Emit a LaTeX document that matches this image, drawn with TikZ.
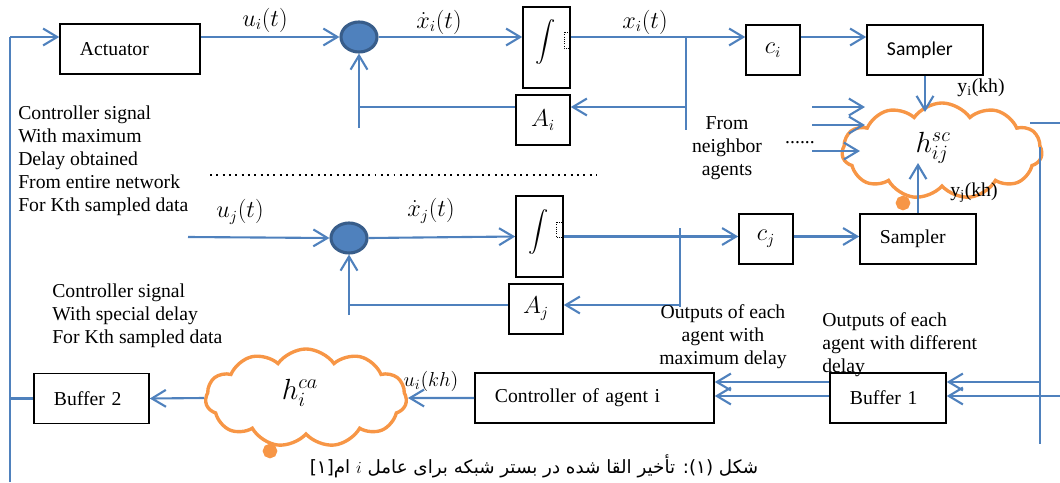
\documentclass[tikz,border=0pt]{standalone}
\usepackage{amsmath}
\usepackage{fontspec}
\setmainfont{Liberation Serif}
\newfontfamily\calibrifont{Carlito}
\newfontfamily\persianfont[Script=Arabic]{DejaVu Sans}
\TeXXeTstate=1
\usepackage{tikz}
\usetikzlibrary{arrows.meta,shapes.geometric,shapes.symbols}
\definecolor{lineblue}{HTML}{4F81BD}
\definecolor{sumblue}{HTML}{385D8A}
\definecolor{cloudorange}{HTML}{F79646}
\tikzset{
  blk/.style={draw=black, line width=1.1pt, minimum height=1.25cm, text width=#1, align=left, inner xsep=0.5cm},
  sq/.style={draw=black, line width=1.1pt, minimum width=1.35cm, minimum height=1.25cm, font=\fontsize{16pt}{18pt}\selectfont},
  intbox/.style={draw=black, line width=1.1pt, minimum width=1.175cm, minimum height=2.025cm},
  sig/.style={draw=lineblue, line width=1.5pt},
  arr/.style={sig, -{Straight Barb[length=10pt,width=12pt]}},
  mlbl/.style={font=\fontsize{16pt}{18pt}\selectfont},
  sum/.style={ellipse, draw=sumblue, fill=lineblue, line width=2.2pt, minimum width=0.9cm, minimum height=0.75cm},
  netcloud/.style={cloud, draw=cloudorange, line width=2.4pt, cloud puffs=11, cloud puff arc=110, cloud ignores aspect},
  bubble/.style={circle, draw=cloudorange, fill=cloudorange, line width=2.4pt, minimum size=0.28cm}
}
\begin{document}
\fontsize{14pt}{16.3pt}\selectfont
\begin{tikzpicture}[x=0.025cm, y=0.025cm]
\tikzstyle{every node}+=[inner sep=0pt]
\useasboundingbox (0,0) rectangle (1060,-482);

\node[blk=2.5cm] (act) at (130,-49) {Actuator};
\node[sum] (sumi) at (359,-37) {};
\node[intbox] (inti) at (546.5,-47.5) {};
\node (inti-s) at (546,-42) {$\displaystyle\int$};
\draw[densely dotted, line width=0.6pt] (564,-32) rectangle (569,-48);
\node[sq] (ai) at (543,-120) {$A_i$};
\node[sq] (ci) at (773,-50) {$c_i$};
\node[blk=1.9cm, font=\calibrifont] (sampi) at (925,-50) {Sampler};
\node[netcloud, minimum width=5cm, minimum height=2.4cm] (hsc) at (942,-151) {};
\node (hsc-l) at (933,-148) {\fontsize{21pt}{24pt}\selectfont$h_{ij}^{sc}$};
\node[bubble] (tailsc) at (903,-203) {};

\node[sum] (sumj) at (349,-238) {};
\node[intbox] (intj) at (539.5,-236.5) {};
\node (intj-s) at (539,-232) {$\displaystyle\int$};
\draw[densely dotted, line width=0.6pt] (556,-222) rectangle (562,-237);
\node[sq] (aj) at (536,-309) {$A_j$};
\node[sq] (cj) at (766,-239) {$c_j$};
\node[blk=1.9cm] (sampj) at (918,-239) {Sampler};

\node[blk=1.875cm] (buf2) at (91.5,-398.5) {Buffer 2};
\node[netcloud, minimum width=5.025cm, minimum height=2.45cm] (hca) at (306,-398) {};
\node (hca-l) at (300,-393) {\fontsize{21pt}{24pt}\selectfont$h_i^{ca}$};
\node[bubble] (tailca) at (270,-451) {};
\node[blk=4.975cm] (ctrl) at (594.5,-398) {Controller of agent i};
\node[blk=1.9cm] (buf1) at (888,-398) {Buffer 1};

\coordinate (ltop) at (10,-37);
\coordinate (lbot) at (10,-482);
\draw[sig] (lbot) -- (ltop);
\draw[arr] (ltop) -- (act.west |- ltop);
\draw[arr] (act.east |- ltop) -- (sumi.west);
\node[mlbl] at (265,-20) {$u_i(t)$};
\draw[arr] (sumi.east) -- (inti.west |- sumi.east);
\node[mlbl] at (439,-22) {$\dot{x}_i(t)$};
\draw[arr] (inti.east |- sumi.east) -- (ci.west |- sumi.east);
\node[mlbl] at (645,-22) {$x_i(t)$};
\coordinate (bri) at (686,-37);
\coordinate (bri2) at (686,-130);
\draw[sig] (bri) -- (bri2);
\coordinate (fbi) at (686,-107);
\draw[arr] (fbi) -- (ai.east |- fbi);
\draw[sig] (ai.west |- fbi) -- (sumi.south |- fbi);
\coordinate (sfi) at (359,-128);
\draw[arr] (sfi) -- (sumi.south);
\draw[arr] (ci.east |- sumi.east) -- (sampi.west |- sumi.east);
\coordinate (yitip) at (928,-112);
\draw[arr] (sampi.south) -- (sampi.south |- yitip);
\node at (981,-88) {y\textsubscript{i}(kh)};
\foreach \y/\l [count=\k] in {107/53,125/53,151/48} {
  \coordinate (nb\k) at (812,-\y);
  \draw[arr] (nb\k) -- ++(\l,0);
}
\node at (800,-143) {......};
\node[align=center] at (727,-148) {From\\neighbor\\agents};

\coordinate (rtop0) at (1030,-123);
\coordinate (rtop) at (1060,-123);
\draw[sig] (rtop0) -- (rtop);
\coordinate (rv1) at (1040,-147);
\coordinate (rv2) at (1040,-444);
\draw[sig] (rv1) -- (rv2);

\draw[line width=1.4pt, dash pattern=on 1.4pt off 3.1pt] (210,-175) -- (597,-175);

\coordinate (uj) at (188,-237);
\draw[arr] (uj) -- (sumj.west);
\node[mlbl] at (240,-212) {$u_j(t)$};
\draw[arr] (sumj.east) -- (intj.west);
\node[mlbl] at (431,-211) {$\dot{x}_j(t)$};
\draw[arr] (intj.east) -- (cj.west |- intj.east);
\draw[arr] (cj.east |- intj.east) -- (sampj.west |- intj.east);
\coordinate (brj) at (680,-228);
\coordinate (brj2) at (680,-307);
\draw[sig] (brj) -- (brj2);
\coordinate (fbj) at (680,-305);
\draw[arr] (fbj) -- (aj.east |- fbj);
\draw[sig] (aj.west |- fbj) -- (sumj.south |- fbj);
\coordinate (sfj) at (349,-315);
\draw[arr] (sfj) -- (sumj.south);
\coordinate (yjtip) at (918,-163);
\draw[arr] (sampj.north) -- (yjtip);
\node at (974,-193) {y\textsubscript{j}(kh)};

\node[anchor=west, align=left] at (18,-161) {Controller signal\\With maximum\\Delay obtained\\From entire network\\For Kth sampled data};
\node[anchor=west, align=left] at (52,-316) {Controller signal\\With special delay\\For Kth sampled data};
\node[align=center] at (723,-337) {Outputs of each\\agent with\\maximum delay};
\node[anchor=west, align=left] at (822,-345) {Outputs of each\\agent with different\\delay};

\coordinate (b1a) at (1040,-382);
\coordinate (b1b) at (1060,-396);
\draw[arr] (b1a) -- (buf1.east |- b1a);
\draw[arr] (b1b) -- (buf1.east |- b1b);
\draw[arr] (buf1.west |- b1a) -- (ctrl.east |- b1a);
\draw[arr] (buf1.west |- b1b) -- (ctrl.east |- b1b);
\draw[arr] (ctrl.west) -- (hca.east);
\node at (431,-381) {$u_i(kh)$};
\draw[arr] (hca.west) -- (buf2.east);
\draw[sig] (buf2.west) -- (buf2.west -| ltop);

\node at (534,-466) {\persianfont\fontsize{13pt}{15pt}\selectfont\beginR شکل (۱): تأخیر القا شده در بستر شبکه برای عامل $i$ ام[۱]\endR};
\end{tikzpicture}
\end{document}
